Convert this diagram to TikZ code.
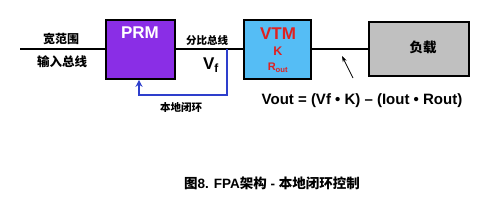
\documentclass[tikz,border=0pt]{standalone}
\usepackage{fontspec}
\setmainfont{Liberation Sans}
\newfontfamily\cjk{Noto Sans CJK SC}
\usetikzlibrary{arrows.meta}
\definecolor{prmpurple}{HTML}{8A2EE6}
\definecolor{vtmblue}{HTML}{55BDF5}
\definecolor{loadgray}{HTML}{C0C0C0}
\definecolor{fbblue}{HTML}{2E3FCC}
\definecolor{vtmred}{HTML}{E02020}
\tikzset{
  blk/.style={draw=black, line width=1.6pt, inner sep=0pt},
  wire/.style={line width=1.3pt, black},
  cn/.style={font=\cjk\bfseries, inner sep=0pt, anchor=center},
  lat/.style={font=\bfseries, inner sep=0pt, anchor=center},
}
\begin{document}
\begin{tikzpicture}[x=1pt,y=-1pt]
\useasboundingbox[fill=white] (0,0) rectangle (500,207);
% boxes
\node[blk, fill=prmpurple, minimum width=69pt, minimum height=59pt] (prm) at (140.5,49.5) {};
\node[blk, fill=vtmblue, minimum width=67pt, minimum height=59pt] (vtm) at (277.5,49.5) {};
\node[blk, fill=loadgray, minimum width=100pt, minimum height=54pt] (load) at (419,49) {};
% wires
\coordinate (inl) at (20,49);
\coordinate (fb) at (227,49);
\coordinate (fbb) at (227,95);
\coordinate (fbl) at (139,95);
\draw[wire] (inl) -- (prm.west |- inl);
\draw[wire] (prm.east |- inl) -- (vtm.west |- inl);
\draw[wire] (vtm.east |- inl) -- (load.west |- inl);
% feedback
\draw[fbblue, line width=1.3pt, -{Stealth[length=7pt,width=7pt]}] (fb) -- (fbb) -- (fbl) -- (prm.south -| fbl);
% pointer arrow
\coordinate (pa) at (353,78);
\coordinate (pb) at (342,56);
\draw[line width=0.7pt, -{Stealth[length=6pt,width=4pt]}] (pa) -- (pb);
% texts
\node[lat, text=white, font=\bfseries\fontsize{17}{17}\selectfont] (prmt) at (140,33) {PRM};
\node[lat, text=vtmred, font=\bfseries\fontsize{17}{17}\selectfont] (vtmt) at (278,34) {VTM};
\node[lat, text=vtmred, font=\bfseries\fontsize{12.5}{12.5}\selectfont] (kt) at (278,51.5) {K};
\node[lat, text=vtmred, font=\bfseries\fontsize{11}{11}\selectfont] (rt) at (278,68) {R\textsubscript{out}};
\node[cn, font=\cjk\bfseries\fontsize{12}{12}\selectfont] (wfw) at (61,39) {宽范围};
\node[cn, font=\cjk\bfseries\fontsize{12.5}{12.5}\selectfont] (srzx) at (62,62) {输入总线};
\node[cn, font=\cjk\bfseries\fontsize{10.5}{10.5}\selectfont] (fbzx) at (207,40) {分比总线};
\node[lat, font=\bfseries\fontsize{17}{17}\selectfont] (vf) at (211,65) {V\textsubscript{f}};
\node[cn, font=\cjk\bfseries\fontsize{10.5}{10.5}\selectfont] (bdbh) at (181,107) {本地闭环};
\node[cn, font=\cjk\bfseries\fontsize{13.5}{13.5}\selectfont] (fz) at (423,47) {负载};
\node[lat, font=\bfseries\fontsize{15}{15}\selectfont] (eq) at (362,101) {Vout = (Vf • K) – (Iout • Rout)};
\node[lat, font=\bfseries\fontsize{13.5}{13.5}\selectfont] (cap) at (272,183) {{\cjk\bfseries 图}8. FPA{\cjk\bfseries 架构} - {\cjk\bfseries 本地闭环控制}};
\end{tikzpicture}
\end{document}
